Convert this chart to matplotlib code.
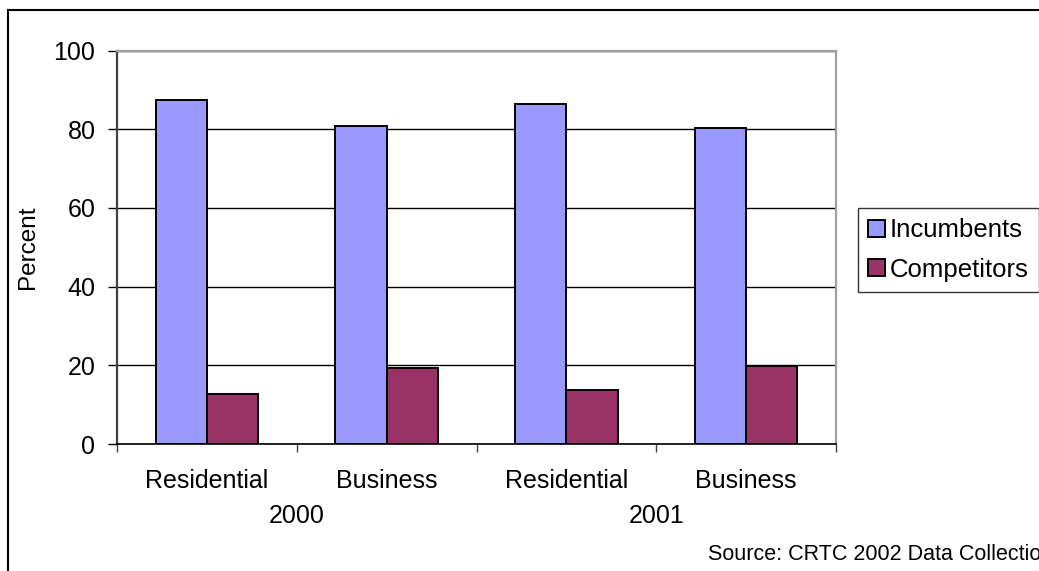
import matplotlib
matplotlib.use("Agg")
import matplotlib.pyplot as plt
import numpy as np
from matplotlib.lines import Line2D

plt.rcParams["font.family"] = ["Liberation Sans", "DejaVu Sans"]

# Share of lines by provider type
categories = ["Residential", "Business", "Residential", "Business"]
years = ["2000", "2001"]
incumbents = [87.3, 80.8, 86.4, 80.3]
competitors = [12.7, 19.2, 13.6, 19.7]

W, H, DPI = 1039, 571, 100
fig = plt.figure(figsize=(W / DPI, H / DPI), dpi=DPI)
fig.patch.set_facecolor("white")

ax = fig.add_axes([117 / W, 1 - 444 / H, (836 - 117) / W, (444 - 50.5) / H])

x = np.arange(len(categories))
width = 1 / 3.5  # two bars per group, gap width 150%
edge = dict(edgecolor="black", linewidth=1.4, zorder=3)
b1 = ax.bar(x - width / 2, incumbents, width, color="#9999FF", label="Incumbents", **edge)
b2 = ax.bar(x + width / 2, competitors, width, color="#993366", label="Competitors", **edge)

ax.set_xlim(-0.5, len(categories) - 0.5)
ax.set_ylim(0, 100)
ax.set_yticks(np.arange(0, 101, 20))
ax.yaxis.grid(True, color="black", linewidth=1.0, zorder=0)
ax.set_axisbelow(True)

ax.tick_params(axis="y", length=6.5, width=1.0, pad=9, labelsize=18, colors="black")
ax.set_xticks(np.arange(-0.5, len(categories), 1.0))
ax.set_xticklabels([])
ax.tick_params(axis="x", length=5.5, width=1.0, colors="#404040")

for side in ["top", "right"]:
    ax.spines[side].set_color("#a0a0a0")
    ax.spines[side].set_linewidth(1.6)
ax.spines["left"].set_color("#404040")
ax.spines["left"].set_linewidth(1.6)
ax.spines["bottom"].set_color("black")
ax.spines["bottom"].set_linewidth(1.2)

# Two-level category axis: segment names, then the year under each pair
for i, name in enumerate(categories):
    ax.annotate(name, xy=(i, 0), xycoords=("data", "axes fraction"),
                xytext=(0, -31.5), textcoords="offset points",
                ha="center", va="baseline", fontsize=18)
for j, yr in enumerate(years):
    ax.annotate(yr, xy=(2 * j + 0.5, 0), xycoords=("data", "axes fraction"),
                xytext=(0, -56.6), textcoords="offset points",
                ha="center", va="baseline", fontsize=18)

fig.text(28 / W, 1 - 247 / H, "Percent", rotation=90, ha="center", va="center", fontsize=17.5)

leg = fig.legend(handles=[b1, b2], loc="upper left",
                 bbox_to_anchor=(858 / W, 1 - 208 / H), borderaxespad=0,
                 fontsize=18.5, frameon=True, fancybox=False,
                 handlelength=0.65, handleheight=0.65, handletextpad=0.2,
                 borderpad=0.4, labelspacing=0.6)
leg.get_frame().set_edgecolor("black")
leg.get_frame().set_linewidth(1.0)

fig.text(708 / W, 1 - 560 / H, "Source: CRTC 2002 Data Collection",
         ha="left", va="baseline", fontsize=15.5)

# Chart border
fig.add_artist(Line2D([8 / W, 8 / W], [0, 1 - 10 / H], color="black", linewidth=1.5,
                      transform=fig.transFigure))
fig.add_artist(Line2D([8 / W, 1], [1 - 10 / H, 1 - 10 / H], color="black", linewidth=1.5,
                      transform=fig.transFigure))

fig.savefig("out.png", dpi=DPI)
